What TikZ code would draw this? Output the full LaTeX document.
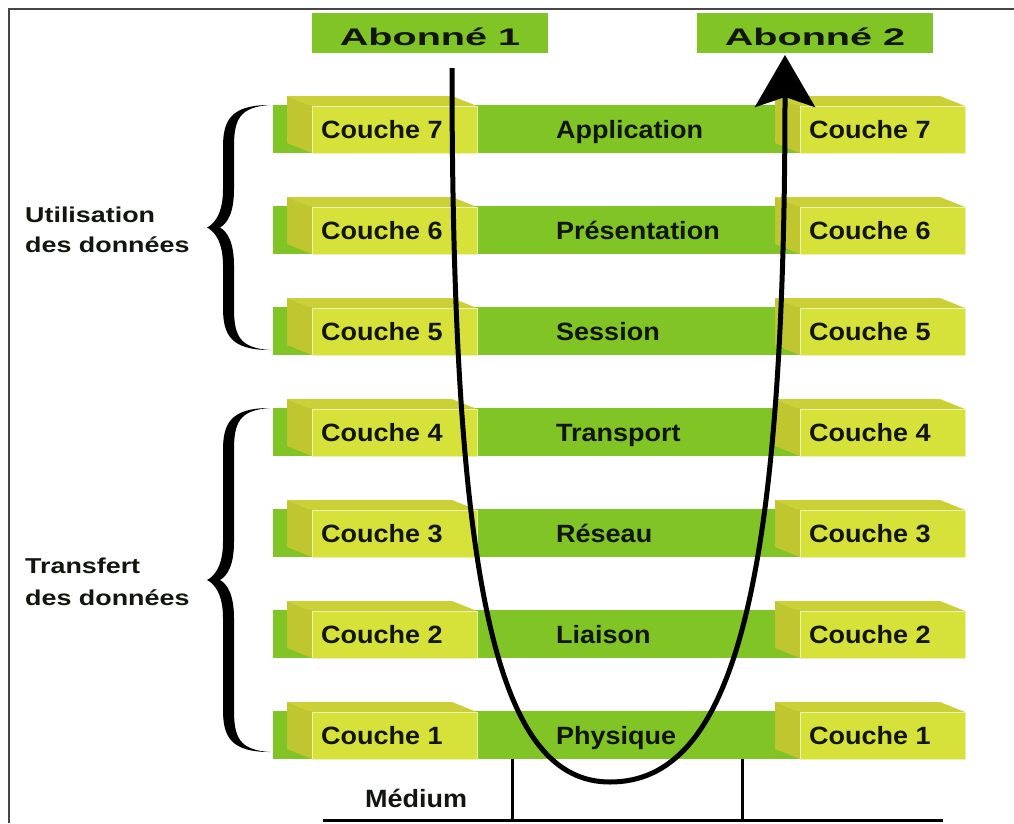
\documentclass[tikz,border=0pt]{standalone}
\usepackage{fontspec}
\setmainfont{Liberation Sans}
\newfontfamily\cfont{Liberation Sans}[FakeStretch=1.08]
\newfontfamily\afont{Liberation Sans}[FakeStretch=1.65]
\newfontfamily\sfont{Liberation Sans}[FakeStretch=1.25]
\usetikzlibrary{arrows.meta}

\definecolor{bandgreen}{RGB}{128,196,38}
\definecolor{facefront}{RGB}{214,226,58}
\definecolor{facetop}{RGB}{202,208,54}
\definecolor{faceside}{RGB}{192,198,48}
\definecolor{faceedge}{RGB}{234,242,176}
\definecolor{inktext}{RGB}{18,22,14}
\definecolor{framegray}{RGB}{70,70,70}

% 3D layer block: #1 front-left x, #2 row centre y, #3 node name, #4 label
\newcommand\layerblock[4]{%
  \fill[facetop] ({#1-25},{#2-33}) -- ({#1+140},{#2-33}) -- ({#1+165},{#2-23}) -- (#1,{#2-23}) -- cycle;
  \fill[faceside] ({#1-25},{#2-33}) -- (#1,{#2-23}) -- (#1,{#2+24}) -- ({#1-25},{#2+14}) -- cycle;
  \node[frontface] (#3) at (#1,{#2-23}) {};
  \node[couchetxt] (#3-t) at ({#1+9},{#2+9}) {#4};
}

% calligraphic curly brace opening to the right: #1 end x, #2 top y, #3 bottom y, #4 tip x
\newcommand\curlybrace[4]{%
  \pgfmathsetmacro\brXe{#1}\pgfmathsetmacro\brYt{#2}\pgfmathsetmacro\brYb{#3}%
  \pgfmathsetmacro\brXt{#4}\pgfmathsetmacro\brXb{#4+22}\pgfmathsetmacro\brYm{(#2+#3)/2}%
  \fill[black]
    (\brXe,\brYt) .. controls ({\brXb+2},\brYt) and ({\brXb-6},{\brYt+15}) .. ({\brXb-6},{\brYt+42})
    -- ({\brXb-6},{\brYm-38})
    .. controls ({\brXb-6},{\brYm-12}) and ({\brXt+6},{\brYm-3}) .. (\brXt,\brYm)
    .. controls ({\brXt+6},{\brYm+3}) and ({\brXb-6},{\brYm+12}) .. ({\brXb-6},{\brYm+38})
    -- ({\brXb-6},{\brYb-42})
    .. controls ({\brXb-6},{\brYb-15}) and ({\brXb+2},\brYb) .. (\brXe,\brYb)
    .. controls ({\brXb+10},{\brYb-2}) and ({\brXb+5},{\brYb-15}) .. ({\brXb+5},{\brYb-42})
    -- ({\brXb+5},{\brYm+38})
    .. controls ({\brXb+5},{\brYm+14}) and ({\brXt+20},{\brYm+4}) .. ({\brXt+13},\brYm)
    .. controls ({\brXt+20},{\brYm-4}) and ({\brXb+5},{\brYm-14}) .. ({\brXb+5},{\brYm-38})
    -- ({\brXb+5},{\brYt+42})
    .. controls ({\brXb+5},{\brYt+15}) and ({\brXb+10},{\brYt+2}) .. (\brXe,\brYt) -- cycle;
}

\begin{document}
\begin{tikzpicture}[x=1pt,y=-1pt,
  band/.style={fill=bandgreen, draw=none, inner sep=0pt, minimum width=527pt, minimum height=48pt, anchor=west},
  frontface/.style={fill=facefront, draw=faceedge, line width=1pt, inner sep=0pt, minimum width=165pt, minimum height=47pt, anchor=north west},
  couchetxt/.style={font={\cfont\bfseries\fontsize{25}{30}\selectfont}, text=inktext, inner sep=0pt, anchor=base west},
  midtxt/.style={font={\cfont\bfseries\fontsize{25}{30}\selectfont}, text=inktext, inner sep=0pt, anchor=base west},
  subbox/.style={fill=bandgreen, draw=none, inner sep=0pt, minimum width=236pt, minimum height=40pt},
  subtxt/.style={font={\afont\bfseries\fontsize{24}{28}\selectfont}, text=inktext, inner sep=0pt, anchor=base},
  sidetxt/.style={font={\sfont\bfseries\fontsize{21.5}{26}\selectfont}, text=inktext, inner sep=0pt, anchor=base west},
  medline/.style={line width=3pt, black},
  flow/.style={line width=5pt, black, -{Stealth[length=52pt,width=60pt,inset=10pt]}}
]
\useasboundingbox (0,0) rectangle (1014,823);
\fill[white] (0,0) rectangle (1014,823);

% outer frame (left and top edges)
\coordinate (frBL) at (9,823);
\coordinate (frTL) at (9,9);
\coordinate (frTR) at (1014,9);
\draw[framegray, line width=2.5pt] (frBL) -- (frTL) -- (frTR);

% subscriber boxes
\node[subbox] (ab1) at (430,33) {};
\node[subtxt] (ab1-t) at (430,45) {Abonné 1};
\node[subbox] (ab2) at (815,33) {};
\node[subtxt] (ab2-t) at (815,45) {Abonné 2};

% the seven layers
\foreach \c/\n/\lab in {129/7/Application, 230/6/Présentation, 331/5/Session,
                        432/4/Transport, 533/3/Réseau, 634/2/Liaison, 735/1/Physique}{
  \node[band] (band\n) at (273,\c) {};
  \layerblock{312}{\c}{left\n}{Couche \n}
  \layerblock{800}{\c}{right\n}{Couche \n}
  \node[midtxt] (name\n) at (556,{\c+9}) {\lab};
}

% grouping braces and their labels
\curlybrace{270}{105}{350}{207}
\node[sidetxt] (use1) at (25,222) {Utilisation};
\node[sidetxt] (use2) at (25,252) {des données};
\curlybrace{270}{408}{752}{207}
\node[sidetxt] (tra1) at (25,573) {Transfert};
\node[sidetxt] (tra2) at (25,605) {des données};

% physical medium
\coordinate (medL) at (323,820);
\coordinate (medR) at (943,820);
\coordinate (tapA) at (512,759);
\coordinate (tapB) at (742,759);
\draw[medline] (medL) -- (medR);
\draw[medline] (tapA) -- (tapA |- medL);
\draw[medline] (tapB) -- (tapB |- medL);
\node[sidetxt, font={\cfont\bfseries\fontsize{25}{30}\selectfont}] (medium) at (365,807) {Médium};

% data path from subscriber 1 down to the medium and up to subscriber 2
\coordinate (flowStart) at (452,68);
\coordinate (flowLow) at (610,782);
\coordinate (flowEnd) at (785,55);
\draw[flow] (flowStart) .. controls (452,600) and (500,782) .. (flowLow)
            .. controls (730,782) and (785,600) .. (flowEnd);
\end{tikzpicture}
\end{document}
